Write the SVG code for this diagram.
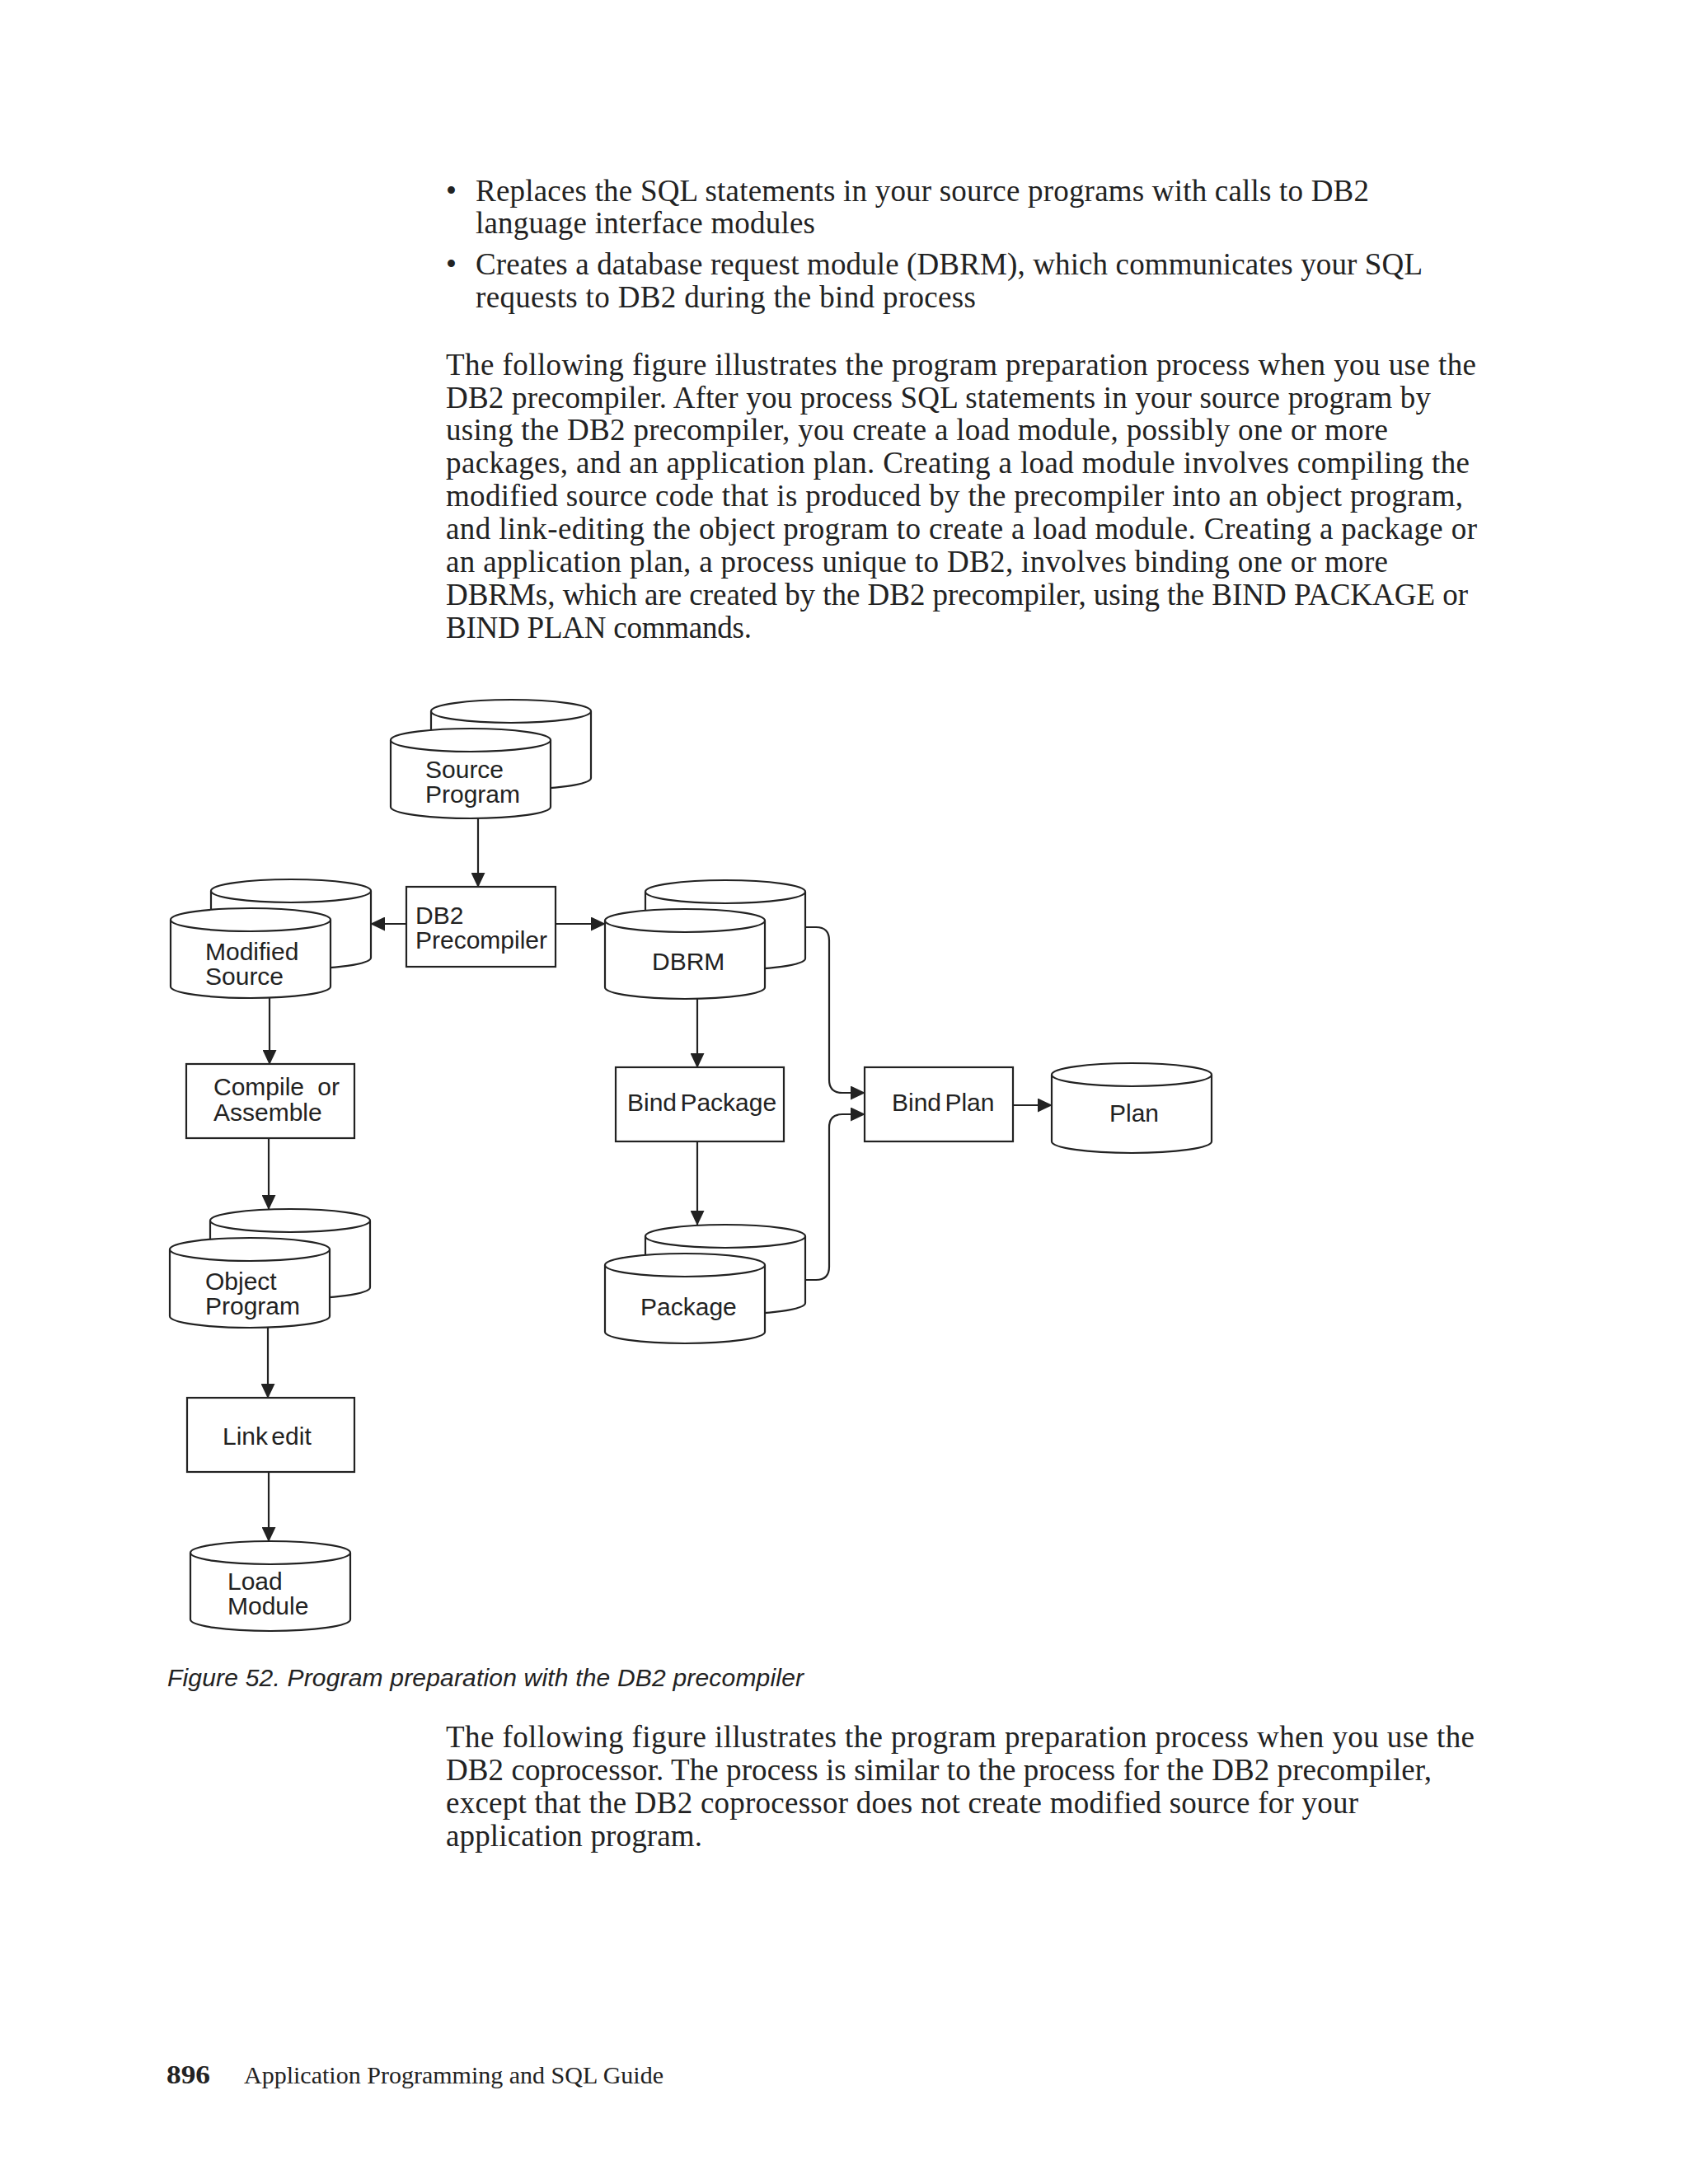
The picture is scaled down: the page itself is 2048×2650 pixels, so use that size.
<svg xmlns="http://www.w3.org/2000/svg" width="2048" height="2650" viewBox="0 0 2048 2650">
<style>
.body{font-family:"Liberation Serif","Times New Roman",serif;font-size:37px;fill:#222}
.lbl{font-family:"Liberation Sans",Arial,sans-serif;font-size:30px;fill:#222}
.cap{font-family:"Liberation Sans",Arial,sans-serif;font-size:30px;font-style:italic;fill:#222}
.box{fill:#fff;stroke:#222;stroke-width:2.2}
.cyl{fill:#fff;stroke:#222;stroke-width:2.2}
.con{fill:none;stroke:#222;stroke-width:2.2;marker-end:url(#ah)}
</style>
<defs>
<marker id="ah" markerUnits="userSpaceOnUse" markerWidth="18" markerHeight="17" refX="17" refY="8.5" orient="auto">
<path d="M0,0 L18,8.5 L0,17 Z" fill="#222"/>
</marker>
<g id="cyl">
<path class="cyl" d="M0,14 A97,14 0 0 1 194,14 V95 A97,14 0 0 1 0,95 Z"/>
<path class="cyl" fill="none" d="M0,14 A97,14 0 0 0 194,14"/>
</g>
</defs>
<rect width="2048" height="2650" fill="#fff"/>

<g id="text-top">
<text class="body" x="541" y="244">•</text>
<text class="body" x="577" y="244" textLength="1084" lengthAdjust="spacing">Replaces the SQL statements in your source programs with calls to DB2</text>
<text class="body" x="577" y="283" textLength="412" lengthAdjust="spacing">language interface modules</text>
<text class="body" x="541" y="333">•</text>
<text class="body" x="577" y="333" textLength="1149" lengthAdjust="spacing">Creates a database request module (DBRM), which communicates your SQL</text>
<text class="body" x="577" y="373" textLength="607" lengthAdjust="spacing">requests to DB2 during the bind process</text>
<text class="body" x="541" y="455" textLength="1250" lengthAdjust="spacing">The following figure illustrates the program preparation process when you use the</text>
<text class="body" x="541" y="495" textLength="1195" lengthAdjust="spacing">DB2 precompiler. After you process SQL statements in your source program by</text>
<text class="body" x="541" y="534" textLength="1143" lengthAdjust="spacing">using the DB2 precompiler, you create a load module, possibly one or more</text>
<text class="body" x="541" y="574" textLength="1242" lengthAdjust="spacing">packages, and an application plan. Creating a load module involves compiling the</text>
<text class="body" x="541" y="614" textLength="1234" lengthAdjust="spacing">modified source code that is produced by the precompiler into an object program,</text>
<text class="body" x="541" y="654" textLength="1251" lengthAdjust="spacing">and link-editing the object program to create a load module. Creating a package or</text>
<text class="body" x="541" y="694" textLength="1143" lengthAdjust="spacing">an application plan, a process unique to DB2, involves binding one or more</text>
<text class="body" x="541" y="734" textLength="1240" lengthAdjust="spacing">DBRMs, which are created by the DB2 precompiler, using the BIND PACKAGE or</text>
<text class="body" x="541" y="774" textLength="371" lengthAdjust="spacing">BIND PLAN commands.</text>
</g>

<g id="connectors">
<path class="con" d="M580,993 V1076"/>
<path class="con" d="M493,1121 H450"/>
<path class="con" d="M674,1121 H734"/>
<path class="con" d="M327,1211 V1291"/>
<path class="con" d="M326,1381 V1467"/>
<path class="con" d="M325,1611 V1696"/>
<path class="con" d="M326,1786 V1870"/>
<path class="con" d="M846,1212 V1295"/>
<path class="con" d="M846,1384 V1486"/>
<path class="con" d="M977,1125 H990 Q1006,1125 1006,1141 V1310 Q1006,1326 1022,1326 H1049"/>
<path class="con" d="M977,1553 H990 Q1006,1553 1006,1537 V1368 Q1006,1352 1022,1352 H1049"/>
<path class="con" d="M1229,1341 H1276"/>
</g>

<g id="source-program">
<use href="#cyl" x="523" y="849"/>
<use href="#cyl" x="474" y="884"/>
<text class="lbl" x="516" y="944">Source</text>
<text class="lbl" x="516" y="974">Program</text>
</g>

<g id="db2-precompiler">
<rect class="box" x="493" y="1076" width="181" height="97"/>
<text class="lbl" x="504" y="1121">DB2</text>
<text class="lbl" x="504" y="1151">Precompiler</text>
</g>

<g id="modified-source">
<use href="#cyl" x="256" y="1067"/>
<use href="#cyl" x="207" y="1102"/>
<text class="lbl" x="249" y="1165">Modified</text>
<text class="lbl" x="249" y="1195">Source</text>
</g>

<g id="dbrm">
<use href="#cyl" x="783" y="1068"/>
<use href="#cyl" x="734" y="1103"/>
<text class="lbl" x="791" y="1177">DBRM</text>
</g>

<g id="compile">
<rect class="box" x="226" y="1291" width="204" height="90"/>
<text class="lbl" x="259" y="1329" word-spacing="8">Compile or</text>
<text class="lbl" x="259" y="1360">Assemble</text>
</g>

<g id="bind-package">
<rect class="box" x="747" y="1295" width="204" height="90"/>
<text class="lbl" x="761" y="1348" word-spacing="-4">Bind Package</text>
</g>

<g id="bind-plan">
<rect class="box" x="1049" y="1295" width="180" height="90"/>
<text class="lbl" x="1082" y="1348" word-spacing="-4">Bind Plan</text>
</g>

<g id="plan">
<use href="#cyl" x="1276" y="1290"/>
<text class="lbl" x="1346" y="1361">Plan</text>
</g>

<g id="object-program">
<use href="#cyl" x="255" y="1467"/>
<use href="#cyl" x="206" y="1502"/>
<text class="lbl" x="249" y="1565">Object</text>
<text class="lbl" x="249" y="1595">Program</text>
</g>

<g id="package">
<use href="#cyl" x="783" y="1486"/>
<use href="#cyl" x="734" y="1521"/>
<text class="lbl" x="777" y="1596">Package</text>
</g>

<g id="link-edit">
<rect class="box" x="227" y="1696" width="203" height="90"/>
<text class="lbl" x="270" y="1753" word-spacing="-4">Link edit</text>
</g>

<g id="load-module">
<use href="#cyl" x="231" y="1870"/>
<text class="lbl" x="276" y="1929">Load</text>
<text class="lbl" x="276" y="1959">Module</text>
</g>

<g id="caption">
<text class="cap" x="203" y="2046" textLength="772" lengthAdjust="spacing">Figure 52. Program preparation with the DB2 precompiler</text>
</g>

<g id="text-bottom">
<text class="body" x="541" y="2120" textLength="1248" lengthAdjust="spacing">The following figure illustrates the program preparation process when you use the</text>
<text class="body" x="541" y="2160" textLength="1196" lengthAdjust="spacing">DB2 coprocessor. The process is similar to the process for the DB2 precompiler,</text>
<text class="body" x="541" y="2200" textLength="1107" lengthAdjust="spacing">except that the DB2 coprocessor does not create modified source for your</text>
<text class="body" x="541" y="2240" textLength="311" lengthAdjust="spacing">application program.</text>
</g>

<g id="footer">
<text x="202" y="2528" font-family="'Liberation Serif','Times New Roman',serif" font-size="31" font-weight="bold" fill="#222" textLength="53" lengthAdjust="spacingAndGlyphs">896</text>
<text x="296" y="2528" font-family="'Liberation Serif','Times New Roman',serif" font-size="30" fill="#222" textLength="509" lengthAdjust="spacing">Application Programming and SQL Guide</text>
</g>
</svg>
